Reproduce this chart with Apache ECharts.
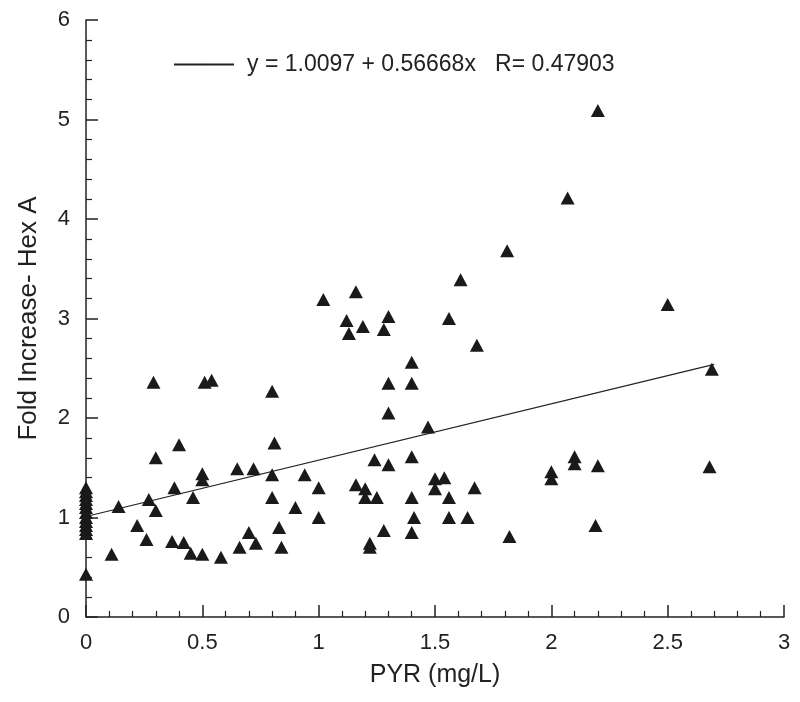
<!DOCTYPE html>
<html>
<head>
<meta charset="utf-8">
<script src="https://cdn.jsdelivr.net/npm/echarts@6/dist/echarts.min.js"></script>
<style>
html,body{margin:0;padding:0;background:#fff;}
#chart{width:800px;height:702px;}
</style>
</head>
<body>
<div id="chart"></div>
<script>
// PYR (mg/L) values
var pyr = [
  0, 0, 0, 0, 0, 0, 0, 0, 0, 0, 0, 0, 0,
  0.11, 0.14, 0.22, 0.26, 0.27, 0.29, 0.30, 0.30, 0.37, 0.38, 0.40, 0.42, 0.45, 0.46,
  0.50, 0.50, 0.50, 0.51, 0.54, 0.58, 0.65, 0.66, 0.70, 0.72, 0.73,
  0.80, 0.80, 0.80, 0.81, 0.83, 0.84, 0.90, 0.94, 1.00, 1.00,
  1.02, 1.12, 1.13, 1.16, 1.16, 1.19, 1.20, 1.20, 1.22, 1.22, 1.24, 1.25, 1.28, 1.28,
  1.30, 1.30, 1.30, 1.30, 1.40, 1.40, 1.40, 1.40, 1.40, 1.41, 1.47,
  1.50, 1.50, 1.54, 1.56, 1.56, 1.56, 1.61, 1.64, 1.67, 1.68,
  1.81, 1.82, 2.00, 2.00, 2.07, 2.10, 2.10, 2.19, 2.20, 2.20, 2.50, 2.68, 2.69
];
// Fold increase - Hex A values
var hexA = [
  1.30, 1.26, 1.22, 1.18, 1.14, 1.10, 1.05, 1.00, 0.96, 0.92, 0.88, 0.84, 0.43,
  0.63, 1.11, 0.92, 0.78, 1.18, 2.36, 1.60, 1.07, 0.76, 1.30, 1.73, 0.75, 0.64, 1.20,
  1.44, 1.38, 0.63, 2.36, 2.38, 0.60, 1.49, 0.70, 0.85, 1.49, 0.74,
  2.27, 1.43, 1.20, 1.75, 0.90, 0.70, 1.10, 1.43, 1.30, 1.00,
  3.19, 2.98, 2.85, 3.27, 1.33, 2.92, 1.29, 1.20, 0.74, 0.70, 1.58, 1.20, 2.89, 0.87,
  3.02, 2.35, 2.05, 1.53, 2.56, 2.35, 1.61, 1.20, 0.85, 1.00, 1.91,
  1.39, 1.29, 1.40, 3.00, 1.20, 1.00, 3.39, 1.00, 1.30, 2.73,
  3.68, 0.81, 1.46, 1.39, 4.21, 1.61, 1.54, 0.92, 5.09, 1.52, 3.14, 1.51, 2.49
];
// Regression fit
var intercept = 1.0097;
var slope = 0.56668;
var rValue = 0.47903;
var fitRange = [0, 2.7];
var fitLabel = 'y = 1.0097 + 0.56668x   R= 0.47903';
var xTicks = [0, 0.5, 1, 1.5, 2, 2.5, 3];
var yTicks = [0, 1, 2, 3, 4, 5, 6];

var points = pyr.map(function (x, i) { return [x, hexA[i]]; });
var fitLine = fitRange.map(function (x) { return [x, intercept + slope * x]; });

var chart = echarts.init(document.getElementById('chart'));
var FONT = '"Liberation Sans", Arial, Helvetica, sans-serif';
chart.setOption({
  animation: false,
  backgroundColor: '#fff',
  textStyle: { fontFamily: FONT },
  grid: { left: 86, right: 16, top: 20, bottom: 85, containLabel: false },
  legend: {
    data: [fitLabel],
    left: 168,
    top: 48,
    itemWidth: 60,
    itemHeight: 2,
    itemGap: 10,
    textStyle: { fontSize: 23, color: '#222', fontFamily: FONT, padding: [0, 0, 0, 8] },
    selectedMode: false
  },
  xAxis: {
    type: 'value',
    min: 0,
    max: 3,
    interval: 0.5,
    name: 'PYR (mg/L)',
    nameLocation: 'middle',
    nameGap: 58,
    nameMoveOverlap: false,
    nameTextStyle: { fontSize: 25, color: '#222', fontFamily: FONT, verticalAlign: 'middle' },
    axisLine: { show: true, onZero: false, lineStyle: { color: '#222', width: 1.5 } },
    axisTick: { show: true, inside: true, length: 12, lineStyle: { color: '#222', width: 1.5 } },
    minorTick: { show: true, splitNumber: 5, length: 6, lineStyle: { color: '#222', width: 1.2 } },
    axisLabel: {
      fontSize: 22, color: '#222', margin: 15,
      formatter: function (v) { return xTicks.indexOf(v) >= 0 ? String(v) : ''; }
    },
    splitLine: { show: false }
  },
  yAxis: {
    type: 'value',
    min: 0,
    max: 6,
    interval: 1,
    name: 'Fold Increase- Hex A',
    nameLocation: 'middle',
    nameGap: 44,
    nameRotate: 90,
    nameTextStyle: { fontSize: 26, color: '#222', fontFamily: FONT },
    axisLine: { show: true, onZero: false, lineStyle: { color: '#222', width: 1.5 } },
    axisTick: { show: true, inside: true, length: 12, lineStyle: { color: '#222', width: 1.5 } },
    minorTick: { show: true, splitNumber: 5, length: 6, lineStyle: { color: '#222', width: 1.2 } },
    axisLabel: {
      fontSize: 22, color: '#222', margin: 16,
      formatter: function (v) { return yTicks.indexOf(v) >= 0 ? String(v) : ''; }
    },
    splitLine: { show: false }
  },
  series: [
    {
      name: 'data',
      type: 'scatter',
      data: points,
      symbol: 'triangle',
      symbolSize: [14, 13],
      itemStyle: { color: '#1a1a1a', opacity: 1 },
      z: 3
    },
    {
      name: fitLabel,
      type: 'line',
      data: fitLine,
      symbol: 'none',
      showSymbol: false,
      lineStyle: { color: '#222', width: 1.2 },
      itemStyle: { color: '#222' },
      z: 2
    }
  ]
});
</script>
</body>
</html>
